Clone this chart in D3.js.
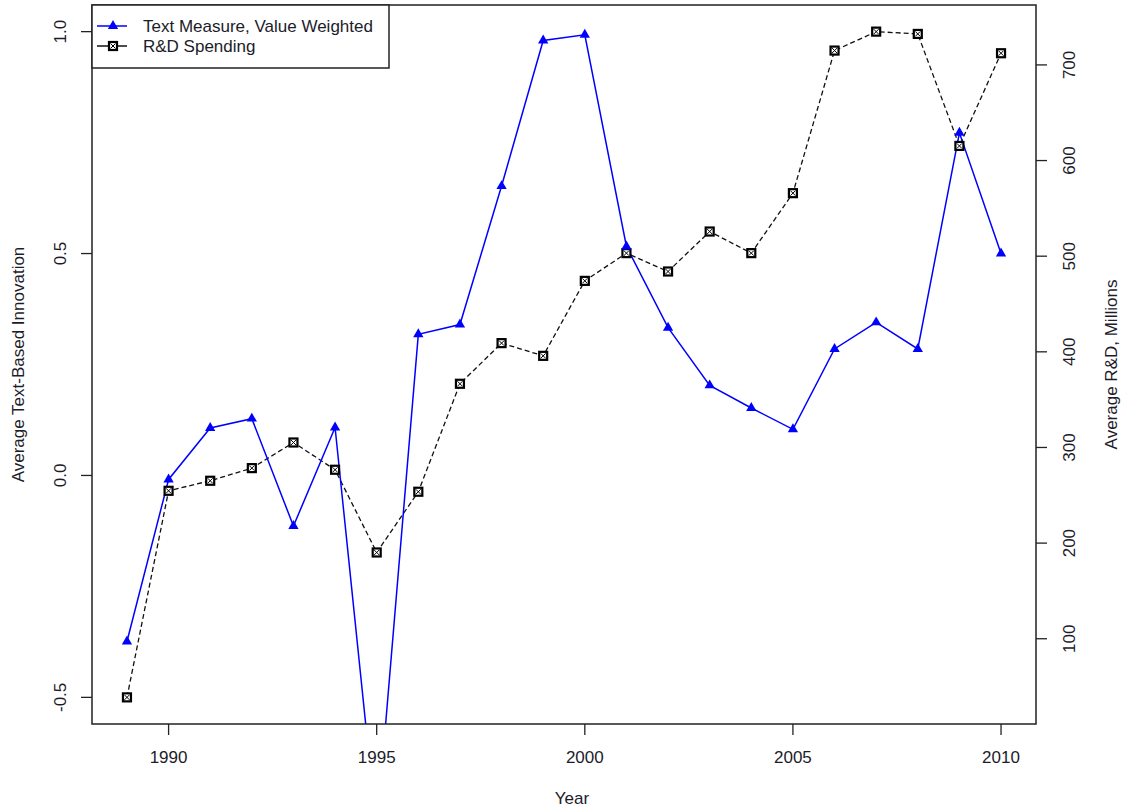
<!DOCTYPE html>
<html>
<head>
<meta charset="utf-8">
<script src="https://cdn.jsdelivr.net/npm/d3@7"></script>
<style>
  body { margin: 0; background: #fff; }
  svg text { font-family: "Liberation Sans", Arial, sans-serif; fill: #1c1c2a; }
</style>
</head>
<body>
<div id="chart"></div>
<script>
const years = [1989, 1990, 1991, 1992, 1993, 1994, 1995, 1996, 1997, 1998, 1999,
               2000, 2001, 2002, 2003, 2004, 2005, 2006, 2007, 2008, 2009, 2010];
const textMeasure = [-0.374, -0.009, 0.107, 0.128, -0.114, 0.108, -0.80, 0.318, 0.340, 0.652, 0.980,
                     0.993, 0.516, 0.333, 0.203, 0.152, 0.104, 0.285, 0.345, 0.285, 0.772, 0.500];
const rdSpending = [38.7, 254.7, 265.2, 278.4, 305.2, 276.7, 190.2, 253.7, 366.6, 409.1, 395.8,
                    474.2, 503.2, 484.0, 525.8, 503.2, 565.9, 715.0, 734.8, 732.4, 615.3, 712.2];
const xTicks = [1990, 1995, 2000, 2005, 2010];
const leftTicks = [-0.5, 0, 0.5, 1.0];
const rightTicks = [100, 200, 300, 400, 500, 600, 700];
const leftLimits = [-0.5, 1.0];
const legendLabels = ["Text Measure, Value Weighted", "R&D Spending"];

const width = 1124, height = 812;
const plot = { left: 92, right: 1036, top: 5, bottom: 724 };

// R style 4% padding of the axis ranges
function pad(ext){
    const d = (ext[1] - ext[0]) * 0.04;
    return [ext[0] - d, ext[1] + d];
}

const svg = d3.select("#chart").append("svg")
    .attr("width", width)
    .attr("height", height);

const x = d3.scaleLinear().domain(pad(d3.extent(years))).range([plot.left, plot.right]);
const yL = d3.scaleLinear().domain(pad(leftLimits)).range([plot.bottom, plot.top]);
const yR = d3.scaleLinear().domain(pad(d3.extent(rdSpending))).range([plot.bottom, plot.top]);

svg.append("defs").append("clipPath").attr("id", "plotClip")
    .append("rect")
    .attr("x", plot.left).attr("y", plot.top)
    .attr("width", plot.right - plot.left).attr("height", plot.bottom - plot.top);

const fontSize = 17;
const tickLen = 11;

// bottom axis
const xAxis = svg.append("g").attr("transform", `translate(0, ${plot.bottom})`);
xAxis.selectAll("line").data(xTicks).enter().append("line")
    .attr("x1", d => x(d)).attr("x2", d => x(d))
    .attr("y1", 0).attr("y2", tickLen)
    .attr("stroke", "#222").attr("stroke-width", 1.3);
xAxis.selectAll("text").data(xTicks).enter().append("text")
    .attr("x", d => x(d)).attr("y", 39)
    .attr("text-anchor", "middle")
    .style("font-size", fontSize + "px")
    .text(d => d);

// left axis
const lAxis = svg.append("g");
lAxis.selectAll("line").data(leftTicks).enter().append("line")
    .attr("x1", plot.left - tickLen).attr("x2", plot.left)
    .attr("y1", d => yL(d)).attr("y2", d => yL(d))
    .attr("stroke", "#222").attr("stroke-width", 1.3);
lAxis.selectAll("text").data(leftTicks).enter().append("text")
    .attr("transform", d => `translate(66, ${yL(d)}) rotate(-90)`)
    .attr("text-anchor", "middle")
    .style("font-size", fontSize + "px")
    .text(d => d3.format(".1f")(d).replace("−", "-"));

// right axis
const rAxis = svg.append("g");
rAxis.selectAll("line").data(rightTicks).enter().append("line")
    .attr("x1", plot.right).attr("x2", plot.right + tickLen)
    .attr("y1", d => yR(d)).attr("y2", d => yR(d))
    .attr("stroke", "#222").attr("stroke-width", 1.3);
rAxis.selectAll("text").data(rightTicks).enter().append("text")
    .attr("transform", d => `translate(1075, ${yR(d)}) rotate(-90)`)
    .attr("text-anchor", "middle")
    .style("font-size", fontSize + "px")
    .text(d => d);

// axis titles
svg.append("text")
    .attr("x", (plot.left + plot.right) / 2 + 8).attr("y", 804)
    .attr("text-anchor", "middle")
    .style("font-size", fontSize + "px")
    .text("Year");
svg.append("text")
    .attr("transform", `translate(24, ${(plot.top + plot.bottom) / 2}) rotate(-90)`)
    .attr("text-anchor", "middle")
    .style("font-size", fontSize + "px")
    .text("Average Text-Based Innovation");
svg.append("text")
    .attr("transform", `translate(1117, ${(plot.top + plot.bottom) / 2}) rotate(-90)`)
    .attr("text-anchor", "middle")
    .style("font-size", fontSize + "px")
    .text("Average R&D, Millions");

// series
const data = years.map((yr, i) => ({ year: yr, text: textMeasure[i], rd: rdSpending[i] }));
const series = svg.append("g").attr("clip-path", "url(#plotClip)");

series.append("path")
    .datum(data)
    .attr("fill", "none")
    .attr("stroke", "#111")
    .attr("stroke-width", 1.3)
    .attr("stroke-dasharray", "5,3")
    .attr("d", d3.line().x(d => x(d.year)).y(d => yR(d.rd)));

series.append("path")
    .datum(data)
    .attr("fill", "none")
    .attr("stroke", "#0000ff")
    .attr("stroke-width", 1.5)
    .attr("d", d3.line().x(d => x(d.year)).y(d => yL(d.text)));

const triangle = d3.symbol().type(d3.symbolTriangle).size(46);

function drawSquare(g){
    g.append("rect")
        .attr("x", -4).attr("y", -4).attr("width", 8).attr("height", 8)
        .attr("fill", "#fff").attr("stroke", "#000").attr("stroke-width", 2.2);
    g.append("path")
        .attr("d", "M-2.5,-2.5L2.5,2.5M-2.5,2.5L2.5,-2.5")
        .attr("stroke", "#000").attr("stroke-width", 1);
}

series.selectAll(".sq").data(data).enter().append("g")
    .classed("sq", true)
    .attr("transform", d => `translate(${x(d.year)}, ${yR(d.rd)})`)
    .each(function(){ drawSquare(d3.select(this)); });

series.selectAll(".tri").data(data).enter().append("path")
    .classed("tri", true)
    .attr("fill", "#0000ff")
    .attr("transform", d => `translate(${x(d.year)}, ${yL(d.text)})`)
    .attr("d", triangle);

// plot frame
svg.append("rect")
    .attr("x", plot.left).attr("y", plot.top)
    .attr("width", plot.right - plot.left).attr("height", plot.bottom - plot.top)
    .attr("fill", "none").attr("stroke", "#222").attr("stroke-width", 1.5);

// legend
const legend = svg.append("g").attr("transform", `translate(${plot.left}, ${plot.top})`);
legend.append("rect")
    .attr("x", 0).attr("y", 0).attr("width", 297).attr("height", 63)
    .attr("fill", "#fff").attr("stroke", "#222").attr("stroke-width", 1.5);

const legendRows = legend.selectAll(".row").data(legendLabels).enter().append("g")
    .classed("row", true)
    .attr("transform", (d, i) => `translate(0, ${21 + i * 20})`);
legendRows.append("line")
    .attr("x1", 5).attr("x2", 35).attr("y1", 0).attr("y2", 0)
    .attr("stroke", (d, i) => i === 0 ? "#0000ff" : "#111")
    .attr("stroke-width", 1.5);
legendRows.each(function(d, i){
    const g = d3.select(this).append("g").attr("transform", "translate(21, 0)");
    if(i === 0) g.append("path").attr("fill", "#0000ff").attr("d", triangle);
    else drawSquare(g);
});
legendRows.append("text")
    .attr("x", 51).attr("y", 6)
    .style("font-size", fontSize + "px")
    .text(d => d);
</script>
</body>
</html>
